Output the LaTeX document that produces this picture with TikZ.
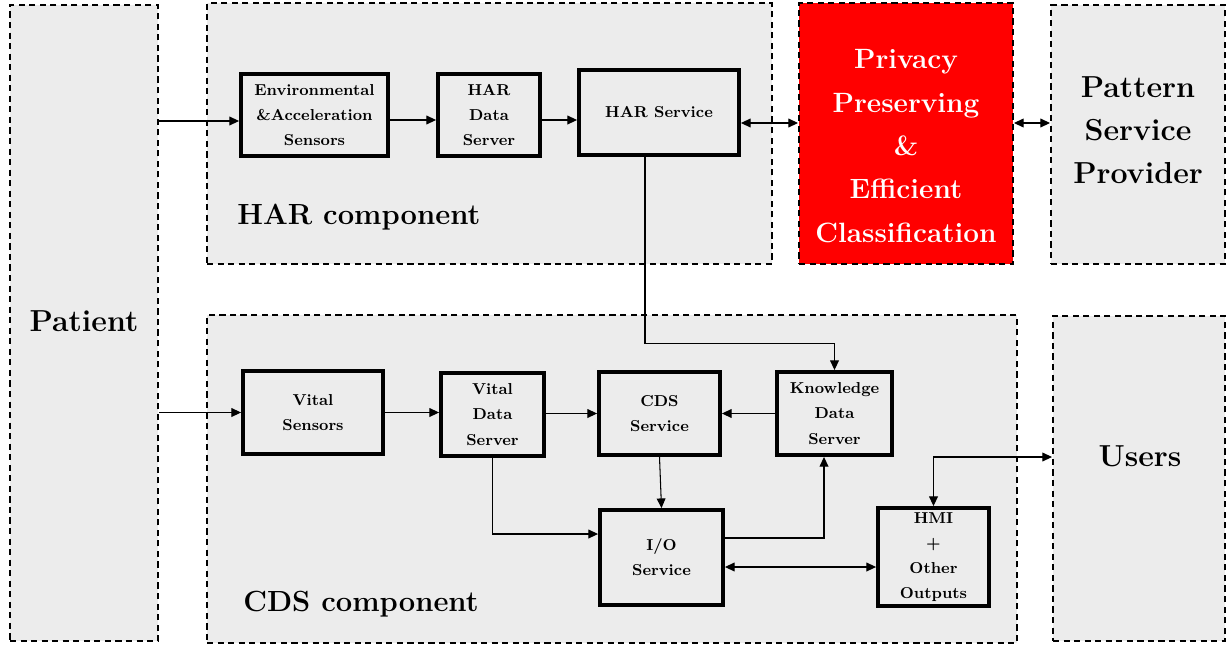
\documentclass[tikz,border=0pt]{standalone}
\usepackage{tikz}
\usetikzlibrary{arrows.meta}

\definecolor{boxgray}{HTML}{ECECEC}
\definecolor{boxred}{HTML}{FF0000}

\begin{document}
\begin{tikzpicture}[x=0.02cm, y=-0.02cm,
    % 样式定义
    group/.style={draw, dash pattern=on 3.5pt off 2.5pt, line width=1.1pt, fill=boxgray, inner sep=0pt},
    block/.style={draw, line width=2.2pt, fill=boxgray, align=center, inner sep=0pt,
        font=\small\bfseries\linespread{1.3}\selectfont},
    bigtext/.style={font=\LARGE\bfseries\linespread{1.12}\selectfont, align=center, inner sep=0pt},
    conn/.style={-{Triangle[length=5.5pt,width=5pt]}, line width=0.6pt},
    dconn/.style={{Triangle[length=5.5pt,width=5pt]}-{Triangle[length=5.5pt,width=5pt]}, line width=0.6pt}
]
    \useasboundingbox (0,0) rectangle (1231,646);

    % ▼ 外框 (dashed groups)
    \node[group, minimum width=2.96cm, minimum height=12.72cm] (patient) at (84,323) {};
    \node[group, minimum width=11.3cm, minimum height=5.22cm] (har) at (489.5,133.5) {};
    \node[group, fill=boxred, minimum width=4.28cm, minimum height=5.22cm] (privacy) at (906,133.5) {};
    \node[group, minimum width=3.48cm, minimum height=5.18cm] (pattern) at (1138,134.5) {};
    \node[group, minimum width=16.2cm, minimum height=6.56cm] (cds) at (612,479) {};
    \node[group, minimum width=3.44cm, minimum height=6.5cm] (users) at (1139,478.5) {};

    % ▼ 外框文字
    \node[bigtext] (patienttxt) at (84,321) {Patient};
    \node[bigtext, font=\fontsize{16.6}{20}\bfseries, anchor=west] (hartxt) at (237,217) {HAR component};
    \node[bigtext, font=\fontsize{15.9}{24.7}\bfseries, text=white] (privacytxt) at (906,146) {Privacy\\Preserving\\\&\\Efficient\\Classification};
    \node[bigtext] (patterntxt) at (1138,130) {Pattern\\Service\\Provider};
    \node[bigtext, font=\fontsize{16.6}{20}\bfseries, anchor=west] (cdstxt) at (243,604) {CDS component};
    \node[bigtext] (userstxt) at (1140,456) {Users};

    % ▼ HAR 部分
    \node[block, minimum width=2.94cm, minimum height=1.64cm] (env) at (314.5,115) {Environmental\\\&Acceleration\\Sensors};
    \node[block, minimum width=2.04cm, minimum height=1.64cm] (hards) at (489,115) {HAR\\Data\\Server};
    \node[block, minimum width=3.2cm, minimum height=1.7cm] (harsvc) at (659,112.5) {HAR Service};

    % ▼ CDS 部分
    \node[block, minimum width=2.8cm, minimum height=1.66cm] (vs) at (313,412.5) {Vital\\Sensors};
    \node[block, minimum width=2.06cm, minimum height=1.66cm] (vds) at (492.5,414.5) {Vital\\Data\\Server};
    \node[block, minimum width=2.42cm, minimum height=1.66cm] (cdssvc) at (659.5,413.5) {CDS\\Service};
    \node[block, minimum width=2.3cm, minimum height=1.66cm] (kds) at (834.5,413.5) {Knowledge\\Data\\Server};
    \node[block, minimum width=2.46cm, minimum height=1.9cm] (io) at (661.5,557.5) {I/O\\Service};
    \node[block, minimum width=2.22cm, minimum height=1.96cm] (hmi) at (933.5,557) {HMI\\+\\Other\\Outputs};

    % ▼ 连线
    \draw[conn] ([yshift=-0.12cm]patient.east |- env.west) -- ([yshift=-0.12cm]env.west);
    \draw[conn] ([yshift=-0.1cm]env.east) -- ([yshift=-0.1cm]env.east -| hards.west);
    \draw[conn] ([yshift=-0.1cm]hards.east) -- ([yshift=-0.1cm]hards.east -| harsvc.west);
    \draw[dconn] ([yshift=-0.21cm]harsvc.east) -- ([yshift=-0.21cm]harsvc.east -| privacy.west);
    \draw[dconn] ([yshift=-0.21cm]harsvc.east -| privacy.east) -- ([yshift=-0.21cm]harsvc.east -| pattern.west);
    \draw[conn] ([xshift=-0.28cm]harsvc.south) |- ([yshift=0.54cm]kds.north) -- (kds.north);

    \draw[conn] (patient.east |- vs.west) -- (vs.west);
    \draw[conn] (vs) -- (vds.west |- vs);
    \draw[conn] (vds.east |- cdssvc) -- (cdssvc.west);
    \draw[conn] (kds.west) -- (cdssvc.east);
    \draw[conn] (cdssvc.south) -- (io.north);
    \draw[conn] (vds.south) |- ([yshift=0.47cm]io.west);
    \draw[conn] ([yshift=0.39cm]io.east) -| ([xshift=-0.21cm]kds.south);
    \draw[dconn] ([yshift=-0.19cm]io.east) -- ([yshift=-0.19cm]io.east -| hmi.west);
    \draw[dconn] (hmi.north) |- ([yshift=0.43cm]users.west);

\end{tikzpicture}
\end{document}
